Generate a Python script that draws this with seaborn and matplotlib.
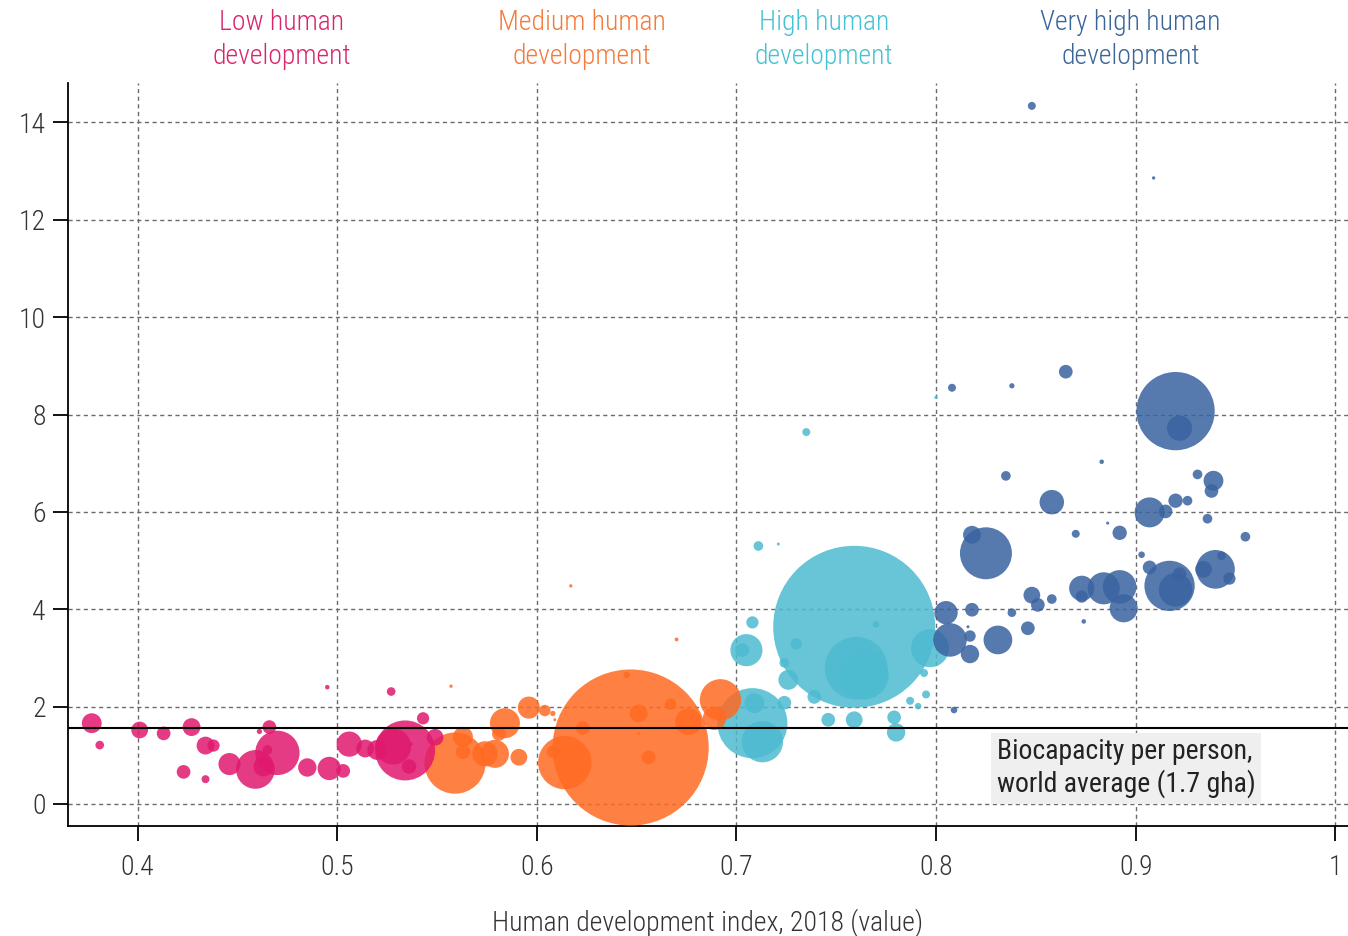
import matplotlib
matplotlib.use('Agg')
import matplotlib.pyplot as plt
import matplotlib.transforms as mtransforms
import pandas as pd
import seaborn as sns

# Values: HDI 2018 (x), footprint per person in gha (y),
# population in millions (bubble area)
low_hdi = [0.377, 0.381, 0.401, 0.413, 0.427, 0.423, 0.434, 0.438, 0.434, 0.446,
           0.459, 0.463, 0.465, 0.466, 0.461, 0.470, 0.485, 0.496, 0.503, 0.495,
           0.527, 0.506, 0.514, 0.520, 0.528, 0.534, 0.536, 0.543, 0.549, 0.537]
low_fp = [1.66, 1.21, 1.52, 1.45, 1.58, 0.66, 1.20, 1.20, 0.51, 0.82,
          0.71, 0.77, 1.11, 1.58, 1.49, 1.05, 0.75, 0.73, 0.68, 2.40,
          2.31, 1.23, 1.14, 1.11, 1.18, 1.10, 0.77, 1.76, 1.37, 1.23]
low_pop = [21, 4, 15, 10, 17, 10, 17, 8, 3.4, 26,
           80, 21, 5, 10, 1.5, 105, 18, 29, 10, 1.1,
           4, 34, 17, 21, 69, 192, 11, 8, 15, 0.6]

med_hdi = [0.559, 0.563, 0.563, 0.557, 0.574, 0.579, 0.581, 0.584, 0.591, 0.596,
           0.604, 0.608, 0.617, 0.670, 0.614, 0.608, 0.623, 0.647, 0.645, 0.651,
           0.667, 0.656, 0.676, 0.692, 0.689, 0.609, 0.651]
med_fp = [0.84, 1.38, 1.07, 2.42, 1.03, 1.03, 1.44, 1.66, 0.96, 1.98,
          1.92, 1.86, 4.48, 3.38, 0.85, 1.07, 1.56, 1.16, 2.65, 1.86,
          2.05, 0.96, 1.69, 2.14, 1.76, 1.73, 1.45]
med_pop = [200, 21, 11, 0.6, 34, 42, 10, 48, 15, 26,
           7, 1.5, 0.6, 0.8, 152, 8, 10, 1300, 2.3, 17,
           7, 10, 38, 91, 29, 0.5, 0.5]

high_hdi = [0.708, 0.705, 0.703, 0.708, 0.713, 0.709, 0.724, 0.726, 0.711, 0.721,
            0.759, 0.730, 0.724, 0.739, 0.746, 0.759, 0.760, 0.764, 0.770, 0.787,
            0.791, 0.795, 0.794, 0.779, 0.780, 0.797, 0.735, 0.800]
high_fp = [3.73, 3.16, 3.16, 1.66, 1.28, 2.07, 2.08, 2.55, 5.30, 5.34,
           3.64, 3.29, 2.90, 2.20, 1.73, 1.73, 2.79, 2.65, 3.69, 2.12,
           2.01, 2.25, 2.69, 1.78, 1.47, 3.20, 7.64, 8.35]
high_pop = [8, 55, 10, 262, 91, 21, 10, 21, 5, 0.5,
            1400, 7, 5, 10, 10, 15, 210, 128, 2.3, 3.4,
            2.3, 3.4, 3.4, 10, 18, 77, 3.4, 0.6]

vhigh_hdi = [0.848, 0.909, 0.808, 0.838, 0.865, 0.920, 0.922, 0.883, 0.835, 0.858,
             0.931, 0.939, 0.938, 0.920, 0.926, 0.915, 0.907, 0.936, 0.886, 0.870,
             0.892, 0.955, 0.818, 0.825, 0.903, 0.907, 0.917, 0.920, 0.940, 0.934,
             0.943, 0.947, 0.922, 0.873, 0.873, 0.884, 0.892, 0.894, 0.848, 0.851,
             0.858, 0.838, 0.846, 0.831, 0.818, 0.805, 0.807, 0.817, 0.817, 0.874,
             0.809, 0.816]
vhigh_fp = [14.34, 12.86, 8.55, 8.59, 8.88, 8.07, 7.72, 7.03, 6.74, 6.20,
            6.77, 6.64, 6.43, 6.23, 6.23, 6.01, 5.99, 5.86, 5.77, 5.55,
            5.57, 5.49, 5.53, 5.15, 5.12, 4.86, 4.48, 4.40, 4.82, 4.82,
            5.10, 4.63, 4.72, 4.43, 4.26, 4.43, 4.46, 4.02, 4.29, 4.09,
            4.21, 3.93, 3.61, 3.37, 3.99, 3.93, 3.37, 3.45, 3.08, 3.75,
            1.93, 3.64]
vhigh_pop = [3.4, 0.6, 3.4, 1.5, 10, 327, 34, 1.1, 5, 32,
             5, 21, 10, 11, 5, 10, 48, 5, 0.5, 3.4,
             11, 5, 17, 144, 2.3, 10, 135, 60, 80, 15,
             4, 8, 10, 34, 8, 55, 60, 42, 15, 10,
             5, 4, 10, 44, 10, 29, 60, 7, 18, 1.1,
             2.3, 0.5]

groups = ['Low', 'Medium', 'High', 'Very high']
group_titles = ['Low human\ndevelopment', 'Medium human\ndevelopment',
                'High human\ndevelopment', 'Very high human\ndevelopment']
title_x = [0.472, 0.6225, 0.744, 0.8975]
bubble_colors = ['#E0196E', '#FF6A22', '#4DBBD0', '#3A63A0']
title_colors = ['#D9256E', '#F47A3B', '#45C2D3', '#3A6599']

x_ticks = [0.4, 0.5, 0.6, 0.7, 0.8, 0.9, 1.0]
x_ticklabels = ['0.4', '0.5', '0.6', '0.7', '0.8', '0.9', '1']
y_ticks = [0, 2, 4, 6, 8, 10, 12, 14]
world_biocap = 1.57

frames = []
for g, h, f, p in zip(groups,
                      [low_hdi, med_hdi, high_hdi, vhigh_hdi],
                      [low_fp, med_fp, high_fp, vhigh_fp],
                      [low_pop, med_pop, high_pop, vhigh_pop]):
    frames.append(pd.DataFrame({'hdi': h, 'footprint': f, 'pop': p, 'group': g}))
df = pd.concat(frames, ignore_index=True)
# big bubbles first so the small ones sit on top
df = df.sort_values('pop', ascending=False)

sns.set_theme(style='ticks')
plt.rcParams['font.family'] = ['Roboto Condensed', 'DejaVu Sans']

fig = plt.figure(figsize=(13.48, 9.36), dpi=100, facecolor='white')
ax = fig.add_axes([68 / 1348, 110 / 936, 1280 / 1348, 743 / 936])

# marker area proportional to population; China (1400 M) ~ 81 px radius
sns.scatterplot(data=df, x='hdi', y='footprint', hue='group', hue_order=groups,
                palette=bubble_colors, size='pop', sizes=(0, 13600),
                size_norm=(0, 1400), alpha=0.85, linewidth=0, legend=False,
                ax=ax, zorder=3)

ax.axhline(world_biocap, color='black', lw=1.5, zorder=4)
ax.text(0.8305, 1.36, 'Biocapacity per person,\nworld average (1.7 gha)',
        fontsize=20, color='#222222', ha='left', va='top', linespacing=1.22,
        bbox=dict(boxstyle='square,pad=0.2', facecolor='#efefef', edgecolor='none'),
        zorder=5)

ax.set_xlim(0.3651, 1.0064)
ax.set_ylim(-0.452, 14.81)
ax.set_xticks(x_ticks)
ax.set_xticklabels(x_ticklabels)
ax.set_yticks(y_ticks)
ax.grid(True, linestyle=(0, (3, 2.5)), color='#6b6b6b', linewidth=1)
ax.set_axisbelow(True)

for side in ['top', 'right']:
    ax.spines[side].set_visible(False)
for side in ['left', 'bottom']:
    ax.spines[side].set_color('black')
    ax.spines[side].set_linewidth(1.3)
ax.tick_params(axis='both', direction='out', length=11, width=1.3, color='black',
               labelsize=20, labelcolor='#333333')
ax.tick_params(axis='x', pad=9)
ax.tick_params(axis='y', pad=5)
for lab in ax.get_xticklabels() + ax.get_yticklabels():
    lab.set_fontweight('light')

ax.set_xlabel('Human development index, 2018 (value)', fontsize=20,
              fontweight='light', color='#333333', labelpad=20)
ax.set_ylabel('')

trans = mtransforms.blended_transform_factory(ax.transData, ax.transAxes)
for t, xpos, c in zip(group_titles, title_x, title_colors):
    ax.text(xpos, 1.058, t, transform=trans, ha='center', va='center',
            fontsize=20, fontweight='light', color=c, linespacing=1.34)

fig.savefig('out.png', dpi=100, facecolor='white')
